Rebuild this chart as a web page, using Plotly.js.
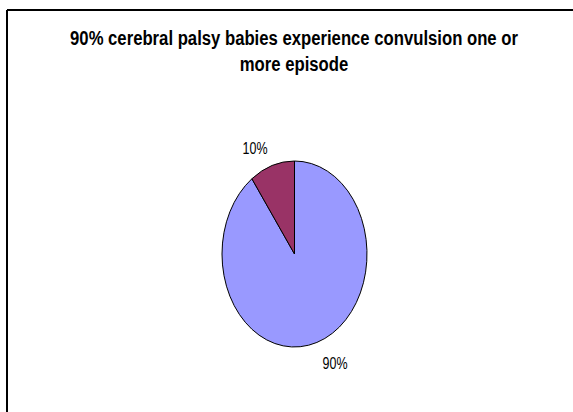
<!DOCTYPE html>
<html>
<head>
<meta charset="utf-8">
<script src="https://cdn.plot.ly/plotly-3.0.1.min.js"></script>
<style>
  html, body { margin: 0; padding: 0; background: #fff; }
  #chart { width: 573px; height: 412px; }
</style>
</head>
<body>
<div id="chart"></div>
<script>
// Share of cerebral palsy babies with one or more convulsion episodes
const categories = ['Convulsion', 'No convulsion'];
const values = [90, 10];
const sliceColors = ['#9999FF', '#993366'];
const chartTitle = '90% cerebral palsy babies experience convulsion one or<br>more episode';

const total = values.reduce((a, b) => a + b, 0);
const pctText = values.map(v => Math.round(v / total * 100) + '%');

// pie centre / size in pixels; slices are squeezed horizontally into an ellipse
const W = 573, H = 412;
const cx = 294.5, cy = 254, ry = 93, rx = 72.5;

// the whole figure uses condensed lettering
const titleSqueeze = 0.835, labelSqueeze = 0.78;
const sans = '"Liberation Sans", Arial, sans-serif';

const trace = {
  type: 'pie',
  labels: categories,
  values: values,
  sort: false,
  direction: 'clockwise',
  rotation: 0,
  textinfo: 'none',
  hoverinfo: 'none',
  marker: { colors: sliceColors, line: { color: '#000', width: 1 } },
  domain: {
    x: [(cx - ry) / W, (cx + ry) / W],
    y: [1 - (cy + ry) / H, 1 - (cy - ry) / H]
  },
  showlegend: false
};

const labelFont = { family: sans, size: 16, color: '#000' };
const labelPos = [[334.5, 363], [255, 149]];

const layout = {
  width: W, height: H,
  margin: { l: 0, r: 0, t: 0, b: 0 },
  paper_bgcolor: '#fff',
  title: {
    text: chartTitle,
    font: { family: sans, size: 20, color: '#000', weight: 'bold' },
    x: 294 / W, xanchor: 'center',
    xref: 'paper', yref: 'container',
    y: 1 - 45 / H, yanchor: 'top'
  },
  annotations: pctText.map((t, i) => ({
    text: t, showarrow: false,
    xref: 'paper', yref: 'paper',
    x: labelPos[i][0] / W, y: 1 - labelPos[i][1] / H,
    xanchor: 'center', yanchor: 'middle',
    font: labelFont
  })),
  shapes: [
    { type: 'line', xref: 'paper', yref: 'paper', x0: 7 / W, x1: 1, y0: 1 - 10 / H, y1: 1 - 10 / H, line: { color: '#000', width: 2 } },
    { type: 'line', xref: 'paper', yref: 'paper', x0: 7 / W, x1: 7 / W, y0: 0, y1: 1 - 10 / H, line: { color: '#000', width: 2 } }
  ]
};

// narrow an svg element horizontally about its own centre
function squeeze(el, s) {
  const r = el.getBoundingClientRect();
  const parent = el.parentNode;
  const svg = el.ownerSVGElement;
  const pt = svg.createSVGPoint();
  pt.x = r.left + r.width / 2;
  pt.y = r.top + r.height / 2;
  const local = pt.matrixTransform(parent.getScreenCTM().inverse());
  const c = local.x;
  const g = document.createElementNS('http://www.w3.org/2000/svg', 'g');
  g.setAttribute('transform', `translate(${c},0) scale(${s},1) translate(${-c},0)`);
  parent.insertBefore(g, el);
  g.appendChild(el);
}

Plotly.newPlot('chart', [trace], layout, { staticPlot: true, displayModeBar: false }).then(gd => {
  const sx = rx / ry;
  gd.querySelectorAll('.pielayer path.surface').forEach(p => {
    p.setAttribute('transform', `translate(${cx},${cy}) scale(${sx},1) translate(${-cx},${-cy})`);
    p.setAttribute('vector-effect', 'non-scaling-stroke');
  });
  gd.querySelectorAll('.g-gtitle text').forEach(t => squeeze(t, titleSqueeze));
  gd.querySelectorAll('.annotation-text').forEach(t => squeeze(t, labelSqueeze));
});
</script>
</body>
</html>
